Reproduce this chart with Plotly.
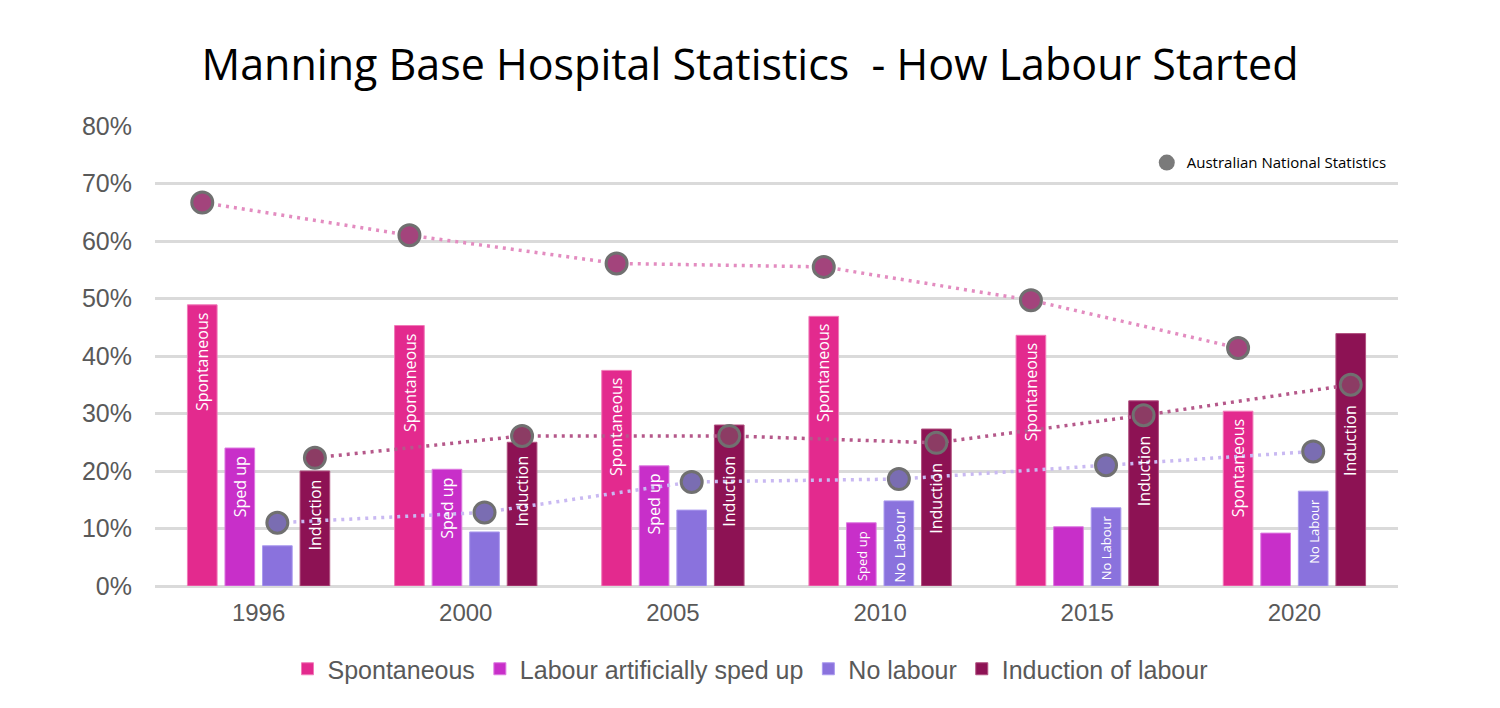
import plotly.graph_objects as go

years = ['1996', '2000', '2005', '2010', '2015', '2020']
spontaneous = [48.9, 45.3, 37.5, 46.9, 43.6, 30.4]
sped_up = [24.0, 20.3, 20.9, 11.0, 10.3, 9.2]
no_labour = [7.0, 9.4, 13.2, 14.8, 13.6, 16.5]
induction = [20.0, 25.0, 28.0, 27.3, 32.2, 43.9]

nat_spontaneous = [66.7, 61.0, 56.1, 55.5, 49.7, 41.4]
nat_no_labour = [11.0, 12.8, 18.1, 18.6, 21.0, 23.4]
nat_induction = [22.3, 26.1, 26.1, 24.9, 29.7, 35.0]

lab_spont = ['Spontaneous'] * 6
lab_sped = ['Sped up', 'Sped up', 'Sped up', 'Sped up', '', '']
lab_nolab = ['', '', '', 'No Labour', 'No Labour', 'No Labour']
lab_ind = ['Induction'] * 6

series_names = ['Spontaneous', 'Labour artificially sped up', 'No labour', 'Induction of labour']

# ---- styles / layout ----
W, H = 1492, 700
ML, MT, PW, PH = 147, 118, 1243, 460
YMAX = 80
PX_PER_UNIT = PH / YMAX
MARKER_SIZE = 21
MARKER_LINE = 3
MARKER_R = MARKER_SIZE / 2 + MARKER_LINE / 2
LABEL_PAD = 6

bar_colors = ['#e32a8e', '#c82fc9', '#8a72dd', '#8d1254']
bar_edges = ['#f07ab8', '#dd7ae0', '#ab9bef', '#b0507f']
size_spont = [16] * 6
size_sped = [16, 16, 16, 13, 13, 13]
size_nolab = [16, 16, 16, 15, 13, 13]
size_ind = [16] * 6

BARGAP = 0.275
GROUPGAP = 0.21
NGROUP = 4
slot = (1 - BARGAP) / NGROUP


def offset(k):
    return -(1 - BARGAP) / 2 + slot * (k + 0.5)


xs = list(range(len(years)))

fig = go.Figure()
bar_vals = [spontaneous, sped_up, no_labour, induction]
bar_labels = [lab_spont, lab_sped, lab_nolab, lab_ind]
bar_sizes = [size_spont, size_sped, size_nolab, size_ind]
for k, vals in enumerate(bar_vals):
    fig.add_trace(go.Bar(
        x=xs, y=vals, name=series_names[k],
        marker=dict(color=bar_colors[k], line=dict(color=bar_edges[k], width=1)),
        legend='legend',
    ))

nat = {
    0: (nat_spontaneous, '#e38cc0', '#a3447c'),
    2: (nat_no_labour, '#c9b9f2', '#7a6db2'),
    3: (nat_induction, '#b5588a', '#8c3c64'),
}
for k, (vals, lc, mc) in nat.items():
    fig.add_trace(go.Scatter(
        x=[x + offset(k) for x in xs], y=vals, mode='lines+markers',
        line=dict(color=lc, width=3.5, dash='3px,5px'),
        marker=dict(size=MARKER_SIZE, color=mc, line=dict(color='#707070', width=MARKER_LINE)),
        showlegend=False, cliponaxis=False,
    ))

# vertical labels inside bars, placed below the national marker when it sits inside the bar
annotations = []
for k, vals in enumerate(bar_vals):
    for i, v in enumerate(vals):
        txt = bar_labels[k][i]
        if not txt:
            continue
        top = v
        if k in nat:
            top = min(v, nat[k][0][i] - MARKER_R / PX_PER_UNIT)
        annotations.append(dict(
            x=xs[i] + offset(k), y=top, xref='x', yref='y',
            text=txt, showarrow=False, textangle=-90,
            xanchor='center', yanchor='top', yshift=-LABEL_PAD,
            font=dict(family='Open Sans', color='white', size=bar_sizes[k][i]),
        ))

# legend entry for national statistics
fig.add_trace(go.Scatter(
    x=[None], y=[None], mode='markers', name='Australian National Statistics',
    marker=dict(size=22, color='#7a7a7a'), legend='legend2',
))

fig.update_layout(
    width=W, height=H,
    margin=dict(l=ML, r=W - ML - PW, t=MT, b=H - MT - PH),
    paper_bgcolor='white', plot_bgcolor='white',
    barmode='group', bargap=BARGAP, bargroupgap=GROUPGAP,
    annotations=annotations,
    title=dict(
        text='Manning Base Hospital Statistics\u00a0 - How Labour Started',
        x=742 / W, xanchor='center', xref='container',
        y=1 - 57 / H, yanchor='middle', yref='container',
        font=dict(family='Open Sans', size=43, color='#000000'),
    ),
    xaxis=dict(
        range=[-0.5, len(years) - 0.5], tickvals=xs, ticktext=years,
        showgrid=False, zeroline=False, showline=False, ticks='',
        tickfont=dict(family='Liberation Sans, Arial', size=24, color='#595959'),
        ticklabelstandoff=10,
    ),
    yaxis=dict(
        range=[0, YMAX], dtick=10, ticksuffix='%',
        showgrid=True, gridcolor='#dadada', gridwidth=3,
        zeroline=True, zerolinecolor='#dadada', zerolinewidth=3,
        ticks='', showline=False,
        tickfont=dict(family='Liberation Sans, Arial', size=25, color='#595959'),
        ticklabelstandoff=22,
    ),
    legend=dict(
        orientation='h', xref='container', x=742 / W, xanchor='center',
        yref='container', y=1 - 661 / H, yanchor='middle',
        font=dict(family='Liberation Sans, Arial', size=25, color='#595959'),
        itemclick=False, itemdoubleclick=False,
    ),
    legend2=dict(
        xref='paper', x=0.995, xanchor='right', yref='paper', y=0.92, yanchor='middle',
        font=dict(family='Open Sans', size=15, color='#000000'),
        bgcolor='rgba(0,0,0,0)',
    ),
    showlegend=True,
)

fig.write_html('out.html')
